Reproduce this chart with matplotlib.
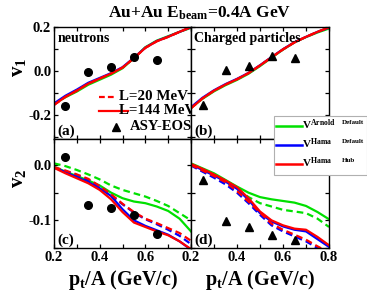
import numpy as np
import matplotlib
matplotlib.use('Agg')
import matplotlib.pyplot as plt
from matplotlib.lines import Line2D
from matplotlib.patches import Rectangle
from matplotlib.ticker import MultipleLocator, FixedLocator

plt.rcParams['font.family'] = ['Liberation Serif', 'DejaVu Serif']
plt.rcParams['font.weight'] = 'bold'
plt.rcParams['mathtext.fontset'] = 'custom'
plt.rcParams['mathtext.rm'] = 'Liberation Serif:bold'
plt.rcParams['mathtext.it'] = 'Liberation Serif:bold'
plt.rcParams['mathtext.bf'] = 'Liberation Serif:bold'

# ---------------- data ----------------
pt = [0.2, 0.25, 0.3, 0.35, 0.4, 0.45, 0.5, 0.55, 0.6, 0.65, 0.7, 0.75, 0.8]
pt_exp = [0.25, 0.35, 0.45, 0.55, 0.65]

# v1 neutrons
v1_n_green = [-0.15, -0.12, -0.094, -0.063, -0.04, -0.017, 0.012, 0.058, 0.108, 0.138, 0.158, 0.178, 0.196]
v1_n_blue = [-0.148, -0.113, -0.085, -0.054, -0.032, -0.01, 0.017, 0.06, 0.106, 0.136, 0.156, 0.178, 0.199]
v1_n_red = [-0.155, -0.118, -0.09, -0.058, -0.035, -0.012, 0.015, 0.058, 0.105, 0.135, 0.155, 0.178, 0.2]
v1_n_exp = [-0.16, -0.003, 0.017, 0.065, 0.05]

# v1 charged particles
v1_c_green = [-0.168, -0.127, -0.093, -0.065, -0.041, -0.013, 0.022, 0.06, 0.097, 0.13, 0.154, 0.175, 0.193]
v1_c_blue = [-0.165, -0.122, -0.088, -0.06, -0.036, -0.009, 0.026, 0.063, 0.099, 0.131, 0.155, 0.178, 0.197]
v1_c_red = [-0.17, -0.125, -0.09, -0.062, -0.038, -0.01, 0.025, 0.062, 0.098, 0.13, 0.155, 0.178, 0.198]
v1_c_exp = [-0.155, 0.005, 0.022, 0.07, 0.057]

# v2 neutrons
v2_n_green_solid = [-0.003, -0.012, -0.02, -0.028, -0.037, -0.05, -0.06, -0.066, -0.069, -0.075, -0.083, -0.097, -0.12]
v2_n_green_dash = [0.003, -0.002, -0.009, -0.017, -0.026, -0.037, -0.045, -0.051, -0.057, -0.065, -0.074, -0.087, -0.1]
v2_n_blue_solid = [-0.004, -0.013, -0.022, -0.031, -0.042, -0.056, -0.08, -0.1, -0.11, -0.118, -0.126, -0.138, -0.153]
v2_n_blue_dash = [-0.005, -0.011, -0.018, -0.027, -0.04, -0.055, -0.071, -0.086, -0.098, -0.107, -0.117, -0.128, -0.143]
v2_n_red_solid = [-0.005, -0.015, -0.024, -0.033, -0.045, -0.062, -0.085, -0.104, -0.112, -0.12, -0.127, -0.138, -0.152]
v2_n_red_dash = [-0.004, -0.01, -0.017, -0.025, -0.038, -0.053, -0.07, -0.085, -0.097, -0.105, -0.114, -0.123, -0.137]
v2_n_exp = [0.015, -0.072, -0.078, -0.09, -0.125]

# v2 charged particles
v2_c_green_solid = [0.003, -0.006, -0.015, -0.027, -0.039, -0.05, -0.058, -0.062, -0.065, -0.068, -0.074, -0.085, -0.098]
v2_c_green_dash = [0.002, -0.008, -0.018, -0.03, -0.043, -0.058, -0.069, -0.075, -0.081, -0.084, -0.087, -0.097, -0.112]
v2_c_blue_solid = [0.001, -0.009, -0.019, -0.03, -0.043, -0.063, -0.087, -0.102, -0.111, -0.117, -0.12, -0.134, -0.148]
v2_c_blue_dash = [-0.001, -0.012, -0.023, -0.035, -0.05, -0.069, -0.09, -0.109, -0.12, -0.129, -0.138, -0.15, -0.161]
v2_c_red_solid = [0.002, -0.007, -0.017, -0.028, -0.04, -0.06, -0.084, -0.1, -0.109, -0.115, -0.117, -0.13, -0.145]
v2_c_red_dash = [0.0, -0.01, -0.02, -0.031, -0.047, -0.066, -0.086, -0.106, -0.117, -0.126, -0.135, -0.147, -0.158]
v2_c_exp = [-0.028, -0.102, -0.112, -0.126, -0.135]

GREEN = '#00e000'
BLUE = '#0000ff'
RED = '#ff0000'
LW = 1.6
DASH = (0, (3.0, 1.8))

W, H = 367, 298
fig = plt.figure(figsize=(W / 100, H / 100), dpi=100)


def px_rect(l, t, r, b):
    return [l / W, 1 - b / H, (r - l) / W, (b - t) / H]


ax_a = fig.add_axes(px_rect(54, 27, 191, 139))
ax_b = fig.add_axes(px_rect(191, 27, 329, 139))
ax_c = fig.add_axes(px_rect(54, 139, 191, 248))
ax_d = fig.add_axes(px_rect(191, 139, 329, 248))

for ax in (ax_a, ax_b, ax_c, ax_d):
    ax.set_xlim(0.2, 0.8)
    ax.xaxis.set_major_locator(FixedLocator([0.2, 0.4, 0.6, 0.8]))
    ax.xaxis.set_minor_locator(FixedLocator([0.3, 0.5, 0.7]))
    ax.tick_params(which='both', direction='in', top=True, right=True,
                   length=3, width=0.9, labelsize=10.5, pad=2)
    for s in ax.spines.values():
        s.set_linewidth(1.0)

for ax in (ax_a, ax_b):
    ax.set_ylim(-0.31, 0.2)
    ax.yaxis.set_major_locator(FixedLocator([-0.2, 0.0, 0.2]))
    ax.yaxis.set_minor_locator(FixedLocator([-0.3, -0.1, 0.1]))
    ax.tick_params(labelbottom=False)
for ax in (ax_c, ax_d):
    ax.set_ylim(-0.15, 0.047)
    ax.yaxis.set_major_locator(FixedLocator([-0.1, 0.0]))
    ax.yaxis.set_minor_locator(FixedLocator([-0.15, -0.05]))
ax_a.set_yticklabels(['-0.2', '0.0', '0.2'])
ax_c.set_yticklabels(['-0.1', '0.0'])
ax_b.tick_params(labelleft=False)
ax_d.tick_params(labelleft=False)
ax_c.set_xticks([0.2, 0.4, 0.6])
ax_c.set_xticklabels(['0.2', '0.4', '0.6'])
ax_c.xaxis.set_minor_locator(FixedLocator([0.3, 0.5, 0.7, 0.8]))
ax_d.set_xticklabels(['0.2', '0.4', '0.6', '0.8'])

# v1 curves
for ax, g, b, r in ((ax_a, v1_n_green, v1_n_blue, v1_n_red),
                    (ax_b, v1_c_green, v1_c_blue, v1_c_red)):
    ax.plot(pt, g, color=GREEN, lw=LW)
    ax.plot(pt, b, color=BLUE, lw=LW)
    ax.plot(pt, r, color=RED, lw=LW, linestyle=DASH)
    ax.plot(pt, r, color=RED, lw=LW)

# v2 curves
for ax, gs, gd, bs, bd, rs, rd in (
        (ax_c, v2_n_green_solid, v2_n_green_dash, v2_n_blue_solid, v2_n_blue_dash, v2_n_red_solid, v2_n_red_dash),
        (ax_d, v2_c_green_solid, v2_c_green_dash, v2_c_blue_solid, v2_c_blue_dash, v2_c_red_solid, v2_c_red_dash)):
    ax.plot(pt, gs, color=GREEN, lw=LW)
    ax.plot(pt, gd, color=GREEN, lw=LW, linestyle=DASH)
    ax.plot(pt, bs, color=BLUE, lw=LW)
    ax.plot(pt, bd, color=BLUE, lw=LW, linestyle=DASH)
    ax.plot(pt, rs, color=RED, lw=LW)
    ax.plot(pt, rd, color=RED, lw=LW, linestyle=DASH)

# experimental points
ax_a.plot(pt_exp, v1_n_exp, 'o', color='black', ms=5.5, zorder=5)
ax_c.plot(pt_exp, v2_n_exp, 'o', color='black', ms=5.5, zorder=5)
ax_b.plot(pt_exp, v1_c_exp, '^', color='black', ms=6, zorder=5)
ax_d.plot(pt_exp, v2_c_exp, '^', color='black', ms=6, zorder=5)

# panel texts
ax_a.text(0.03, 0.87, 'neutrons', transform=ax_a.transAxes, fontsize=10, fontweight='bold')
ax_b.text(0.02, 0.87, 'Charged particles', transform=ax_b.transAxes, fontsize=10, fontweight='bold')
for ax, lab in ((ax_a, '(a)'), (ax_b, '(b)'), (ax_c, '(c)'), (ax_d, '(d)')):
    ax.text(0.025, 0.04, lab, transform=ax.transAxes, fontsize=11, fontweight='bold')

# legend of panel (a), in axes coords
def ax_pt(px, py):
    return ((px - 54) / 137, (139 - py) / 112)

x0, y1 = ax_pt(99, 97)
x1, _ = ax_pt(115, 97)
ax_a.add_line(Line2D([x0, x1], [y1, y1], transform=ax_a.transAxes, color=RED, lw=LW,
                     linestyle=(0, (2.6, 1.4)), clip_on=False))
tx, _ = ax_pt(119, 97)
ax_a.text(tx, y1, 'L=20 MeV', transform=ax_a.transAxes, fontsize=10.8, va='center', clip_on=False)
x0, y2 = ax_pt(99, 111)
x1, _ = ax_pt(128, 111)
ax_a.add_line(Line2D([x0, x1], [y2, y2], transform=ax_a.transAxes, color=RED, lw=LW, clip_on=False))
ax_a.text(tx, y2, 'L=144 MeV', transform=ax_a.transAxes, fontsize=10.8, va='center', clip_on=False, zorder=6)
mx, y3 = ax_pt(116, 127)
ax_a.add_line(Line2D([mx], [y3], transform=ax_a.transAxes, marker='^', color='black', ms=6,
                     linestyle='none', clip_on=False))
tx3, _ = ax_pt(130, 127)
ax_a.text(tx3, y3, 'ASY-EOS', transform=ax_a.transAxes, fontsize=10.5, va='center', clip_on=False, zorder=6)

# right legend box (figure coords)
fig.patches.append(Rectangle((274 / W, 1 - 175 / H), 93 / W, 59 / H, transform=fig.transFigure,
                             facecolor='white', edgecolor='#b0b0b0', lw=0.8, zorder=10))
rows = [(126, GREEN, 'Arnold', 'Default'), (145, BLUE, 'Hama', 'Default'), (164, RED, 'Hama', 'Hub')]
for py, col, sup, kind in rows:
    fy = 1 - py / H
    fig.lines.append(Line2D([276 / W, 302 / W], [fy, fy], transform=fig.transFigure,
                            color=col, lw=1.8, zorder=11))
    fig.text(302 / W, fy + 0.004, r'$\mathrm{V}^{\mathrm{%s}}$' % sup, fontsize=8,
             va='center', ha='left', zorder=12)
    fig.text(342 / W, fy + 0.012, kind, fontsize=5, va='center', ha='left', zorder=12)

# title and axis labels
fig.text(200 / W, 1 - 13 / H, r'Au+Au $\mathrm{E}_{\mathrm{beam}}$=0.4A GeV', fontsize=12.5,
         ha='center', va='center', fontweight='bold')
fig.text(18 / W, 1 - 67 / H, r'$\mathrm{v}_{\mathrm{1}}$', fontsize=15, rotation=90,
         ha='center', va='center')
fig.text(18 / W, 1 - 178 / H, r'$\mathrm{v}_{\mathrm{2}}$', fontsize=15, rotation=90,
         ha='center', va='center')
ax_c.set_xlabel(r'$\mathrm{p}_{\mathrm{t}}$/A (GeV/c)', fontsize=14.5, fontweight='bold', labelpad=3)
ax_d.set_xlabel(r'$\mathrm{p}_{\mathrm{t}}$/A (GeV/c)', fontsize=14.5, fontweight='bold', labelpad=3)

fig.savefig('out.png', dpi=100)
